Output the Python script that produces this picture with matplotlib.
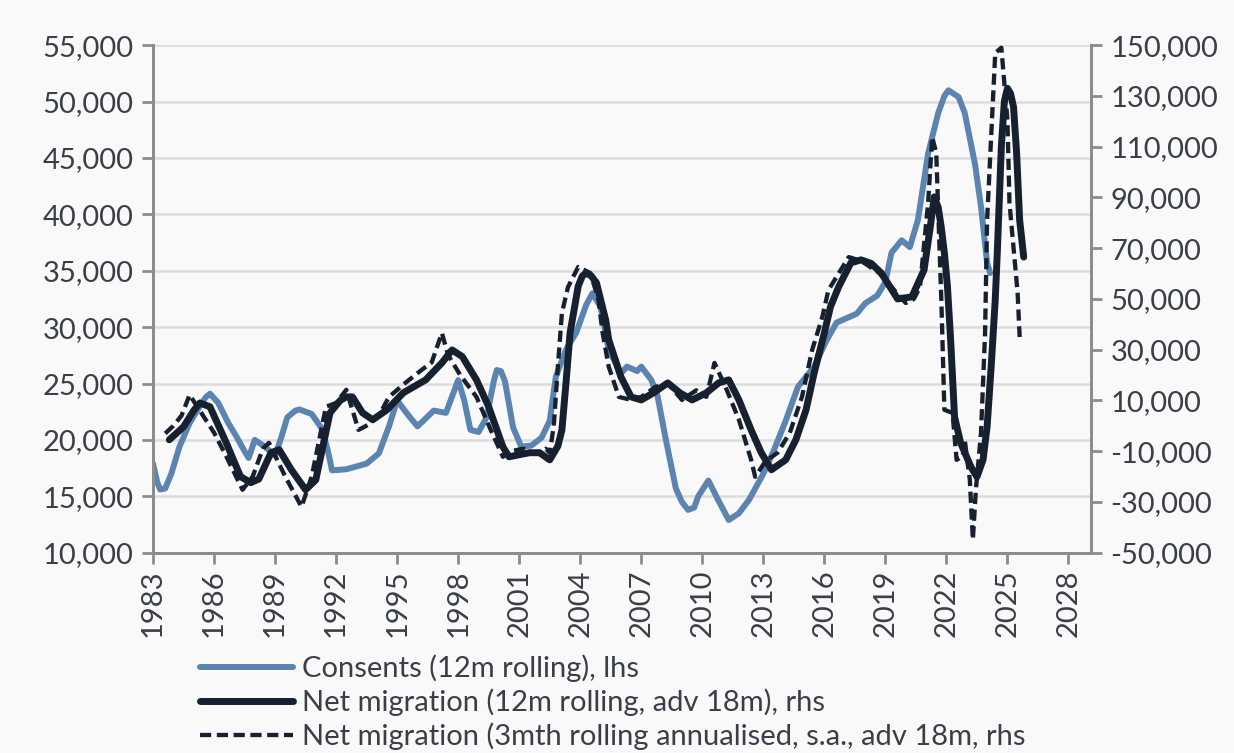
import matplotlib
matplotlib.use("Agg")
import matplotlib.pyplot as plt
from matplotlib.ticker import FuncFormatter

plt.rcParams['font.family'] = ['Lato', 'DejaVu Sans']

# Consents (12m rolling), lhs
cons_year = [1983.0, 1983.2, 1983.35, 1983.6, 1983.9, 1984.3, 1984.8, 1985.3, 1985.6, 1985.8,
             1986.2, 1986.7, 1987.1, 1987.5, 1987.7, 1988.0, 1988.5, 1989.0, 1989.3, 1989.6,
             1990.0, 1990.2, 1990.8, 1991.3, 1991.6, 1991.8, 1992.5, 1993.5, 1994.1, 1994.6,
             1995.0, 1995.5, 1996.0, 1996.8, 1997.4, 1998.0, 1998.3, 1998.6, 1999.0, 1999.4,
             1999.75, 1999.9, 2000.1, 2000.3, 2000.7, 2001.1, 2001.6, 2002.1, 2002.5, 2002.8,
             2003.3, 2003.8, 2004.3, 2004.6, 2005.0, 2005.4, 2006.0, 2006.3, 2006.8, 2007.0,
             2007.5, 2007.8, 2008.2, 2008.7, 2009.0, 2009.3, 2009.6, 2009.8, 2010.3, 2010.8,
             2011.3, 2011.8, 2012.3, 2013.0, 2013.5, 2014.1, 2014.7, 2015.5, 2016.1, 2016.6,
             2017.6, 2018.0, 2018.6, 2019.0, 2019.3, 2019.8, 2020.2, 2020.6, 2021.1, 2021.6,
             2021.9, 2022.1, 2022.6, 2022.9, 2023.4, 2023.7, 2024.0, 2024.15]
cons_val = [17900, 16300, 15600, 15700, 17000, 19400, 21500, 23000, 23800, 24100,
            23300, 21500, 20300, 19000, 18400, 20000, 19400, 18600, 20200, 22000,
            22600, 22700, 22300, 21000, 19000, 17300, 17400, 17900, 18800, 21200,
            23500, 22300, 21200, 22600, 22400, 25300, 23500, 20900, 20700, 22000,
            25200, 26200, 26100, 25200, 21100, 19400, 19500, 20200, 21700, 25600,
            28000, 29500, 32000, 33000, 31800, 28000, 25900, 26500, 26100, 26500,
            25300, 23900, 20100, 15700, 14500, 13800, 14000, 15000, 16400, 14600,
            12900, 13500, 14700, 17000, 19000, 21700, 24700, 26500, 28800, 30400,
            31200, 32100, 32800, 34000, 36600, 37700, 37100, 39500, 45400, 49000,
            50500, 51000, 50400, 49000, 44500, 40700, 35700, 34800]

# Net migration (12m rolling, adv 18m), rhs
mig_year = [1983.8, 1984.5, 1985.0, 1985.3, 1985.8, 1986.6, 1987.3, 1987.8, 1988.2, 1988.8,
            1989.2, 1989.8, 1990.5, 1991.0, 1991.7, 1992.2, 1992.5, 1992.8, 1993.3, 1993.8,
            1994.5, 1995.3, 1996.4, 1997.2, 1997.7, 1998.2, 1998.9, 1999.5, 2000.2, 2000.5,
            2001.5, 2002.0, 2002.5, 2002.9, 2003.1, 2003.3, 2003.5, 2003.9, 2004.1, 2004.3,
            2004.55, 2004.8, 2005.25, 2005.4, 2006.0, 2006.5, 2007.0, 2007.6, 2008.3, 2008.9,
            2009.5, 2010.2, 2010.8, 2011.3, 2011.8, 2012.4, 2012.9, 2013.4, 2014.1, 2014.6,
            2015.1, 2015.5, 2016.0, 2016.3, 2016.7, 2017.3, 2017.8, 2018.3, 2018.8, 2019.6,
            2020.3, 2020.9, 2021.2, 2021.4, 2021.6, 2021.75, 2021.9, 2022.05, 2022.2, 2022.4,
            2022.7, 2023.2, 2023.5, 2023.8, 2024.0, 2024.2, 2024.4, 2024.5, 2024.7, 2024.85,
            2025.0, 2025.15, 2025.3, 2025.45, 2025.6, 2025.8]
mig_val = [-5500, -400, 6000, 9000, 7500, -6700, -20000, -22400, -21000, -10600,
           -9400, -17300, -25200, -21300, 5100, 10000, 11400, 11400, 5100, 2400,
           6300, 13000, 18100, 24800, 29900, 27300, 18100, 7500, -8300, -12200,
           -10600, -10600, -13400, -8000, -1600, 16900, 36600, 55000, 59000, 60200,
           59000, 56300, 41700, 33900, 19300, 11400, 10200, 13000, 16900, 13000,
           10200, 13000, 16900, 18100, 10200, -1600, -10600, -17300, -13400, -5500,
           6300, 20900, 36600, 46900, 54700, 64200, 65400, 64000, 60200, 50000,
           50800, 61400, 78000, 90200, 86000, 78000, 68100, 55000, 35000, 3500,
           -6700, -16100, -20100, -13400, -400, 23300, 49600, 68100, 110000, 128000,
           133000, 131000, 125600, 107500, 81100, 66500]

# Net migration (3mth rolling annualised, s.a., adv 18m), rhs
mig3_year = [1983.6, 1984.0, 1984.4, 1984.8, 1985.3, 1986.0, 1986.6, 1987.4, 1987.9, 1988.4,
             1988.7, 1989.5, 1990.3, 1990.8, 1991.5, 1992.0, 1992.5, 1993.1, 1993.6, 1994.1,
             1994.6, 1995.4, 1996.2, 1996.7, 1997.2, 1997.5, 1998.1, 1998.9, 1999.6, 2000.2,
             2000.6, 2001.2, 2001.8, 2002.3, 2002.5, 2002.7, 2002.9, 2003.1, 2003.4, 2003.9,
             2004.5, 2004.9, 2005.1, 2005.4, 2005.9, 2006.5, 2007.0, 2007.7, 2008.3, 2009.0,
             2009.7, 2010.2, 2010.6, 2011.2, 2011.8, 2012.4, 2012.6, 2013.1, 2013.7, 2014.3,
             2014.9, 2015.4, 2015.9, 2016.2, 2017.2, 2017.8, 2018.7, 2019.6, 2020.0, 2020.4,
             2020.7, 2021.1, 2021.3, 2021.5, 2021.75, 2021.9, 2022.3, 2022.5, 2022.8, 2022.9,
             2023.15, 2023.3, 2023.45, 2023.7, 2023.9, 2024.0, 2024.4, 2024.7, 2025.0, 2025.1,
             2025.5, 2025.6]
mig3_val = [-3000, 0, 4000, 12200, 6000, -2700, -12000, -25200, -20000, -9000,
            -6700, -20000, -31900, -20000, 7500, 9000, 14200, -1600, 500, 4000,
            11400, 16900, 22000, 25000, 36600, 28000, 20000, 11400, -1600, -12200,
            -10000, -9000, -11000, -9000, -10600, 0, 23300, 44500, 54700, 62600,
            60200, 49600, 36600, 23300, 11400, 10200, 11400, 15300, 16900, 10200,
            14000, 11400, 24800, 14200, 2400, -13400, -20100, -14000, -10600, -2800,
            11400, 29900, 42900, 53500, 66500, 65000, 60200, 52000, 48400, 50000,
            54700, 87800, 113800, 107500, 49600, 6300, 5100, -13400, -12000, -5500,
            -21300, -44900, -25000, -2800, 36600, 81100, 146900, 149000, 120500, 87800,
            52400, 35000]

year_ticks = list(range(1983, 2029, 3))
lhs_ticks = list(range(10000, 55001, 5000))
rhs_ticks = list(range(-50000, 150001, 20000))

bg = '#f9f9f9'
blue = '#5b84b1'
navy = '#17202e'
spine_col = '#8c8c8c'
txt = '#3a3f47'

fig = plt.figure(figsize=(12.34, 7.53), dpi=100, facecolor=bg)
ax = fig.add_axes([0.124, 0.266, 0.760, 0.674], facecolor=bg)
ax2 = ax.twinx()

l1, = ax.plot(cons_year, cons_val, color=blue, lw=4.3, solid_capstyle='round',
              solid_joinstyle='round', label='Consents (12m rolling), lhs')
l2, = ax2.plot(mig_year, mig_val, color=navy, lw=5, solid_capstyle='round',
               solid_joinstyle='round', label='Net migration (12m rolling, adv 18m), rhs')
l3, = ax2.plot(mig3_year, mig3_val, color=navy, lw=3.1, linestyle=(0, (2.6, 1.3)),
               label='Net migration (3mth rolling annualised, s.a., adv 18m, rhs')

ax.set_xlim(1983, 2029.1)
ax.set_ylim(10000, 55000)
ax2.set_ylim(-50000, 150000)
ax.set_yticks(lhs_ticks)
ax2.set_yticks(rhs_ticks)
fmt = FuncFormatter(lambda v, p: f"{v:,.0f}")
ax.yaxis.set_major_formatter(fmt)
ax2.yaxis.set_major_formatter(fmt)
ax.set_xticks(year_ticks)
ax.set_xticklabels([str(y) for y in year_ticks], rotation=90)

ax.grid(axis='y', color='#dcdcdc', lw=1.8)
ax.set_axisbelow(True)
for a in (ax, ax2):
    a.spines['top'].set_visible(False)
    for s in ('left', 'right', 'bottom'):
        a.spines[s].set_color(spine_col)
        a.spines[s].set_linewidth(2)
ax.tick_params(axis='y', length=8, width=2, color=spine_col, labelsize=21, labelcolor=txt, pad=6)
ax2.tick_params(axis='y', length=8, width=2, color=spine_col, labelsize=21, labelcolor=txt, pad=6)
ax.tick_params(axis='x', length=8, width=2, color=spine_col, labelsize=21, labelcolor=txt, pad=4)

fig.legend(handles=[l1, l2, l3], loc='upper left', bbox_to_anchor=(0.162, 0.131),
           frameon=False, fontsize=21, handlelength=3.2, handletextpad=0.3,
           labelspacing=0.22, borderpad=0, borderaxespad=0, labelcolor=txt)

fig.savefig('out.png', dpi=100, facecolor=bg)
